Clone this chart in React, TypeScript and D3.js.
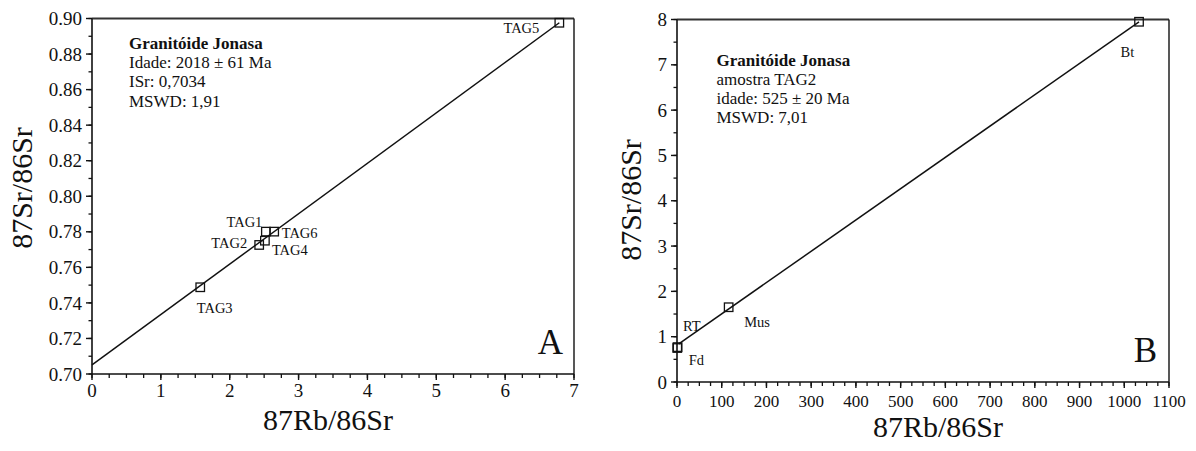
import React from "react";
import * as d3 from "d3";

// ---------- Data ----------
// Panel A
const tagLabels = ["TAG1", "TAG2", "TAG3", "TAG4", "TAG5", "TAG6"];
const tagRb = [2.525, 2.428, 1.572, 2.511, 6.787, 2.646];
const tagSr = [0.7801, 0.7726, 0.7488, 0.775, 0.8976, 0.7801];
const isoA_x = [0, 6.787];
const isoA_y = [0.7051, 0.8976];
const infoA = ["Granitóide Jonasa", "Idade: 2018 ± 61 Ma", "ISr: 0,7034", "MSWD: 1,91"];
const xTicksA = [0, 1, 2, 3, 4, 5, 6, 7];
const yTicksA = [0.7, 0.72, 0.74, 0.76, 0.78, 0.8, 0.82, 0.84, 0.86, 0.88, 0.9];

// Panel B
const minLabels = ["RT", "Fd", "Mus", "Bt"];
const minRb = [1.2, 0.6, 115.5, 1033];
const minSr = [0.77, 0.75, 1.65, 7.95];
const isoB_x = [4, 1033];
const isoB_y = [0.84, 7.95];
const infoB = ["Granitóide Jonasa", "amostra TAG2", "idade: 525 ± 20 Ma", "MSWD: 7,01"];
const xTicksB = [0, 100, 200, 300, 400, 500, 600, 700, 800, 900, 1000, 1100];
const yTicksB = [0, 1, 2, 3, 4, 5, 6, 7, 8];

// ---------- Layout (styles / positions) ----------
const FONT = "'Liberation Serif', 'Times New Roman', serif";
const labelOffA: Record<string, [number, number, string]> = {
  TAG1: [-3.5, -5, "end"],
  TAG2: [-12, 3, "end"],
  TAG3: [-3.5, 26, "start"],
  TAG4: [7, 14.5, "start"],
  TAG5: [-20, 10.5, "end"],
  TAG6: [7.5, 6.5, "start"],
};
const labelOffB: Record<string, [number, number, string]> = {
  RT: [5.5, -16, "start"],
  Fd: [11.5, 16.5, "start"],
  Mus: [15.5, 19.5, "start"],
  Bt: [-18.5, 35.5, "start"],
};

type PanelProps = {
  left: number; right: number; top: number; bottom: number;
  xDomain: [number, number]; yDomain: [number, number];
  xTicks: number[]; yTicks: number[];
  xMinorStep: number; yMinorStep: number;
  yFmt: (v: number) => string;
  xLabelFont: number;
  xLabelOffset: number;
  labels: string[]; xs: number[]; ys: number[];
  isoX: number[]; isoY: number[];
  offs: Record<string, [number, number, string]>;
  info: string[]; infoX: number; infoY: number;
  letter: string; letterX: number; letterY: number;
  xTitleX: number; xTitleY: number;
  yTitleX: number; yTitleY: number;
};

function Panel(p: PanelProps) {
  const x = d3.scaleLinear().domain(p.xDomain).range([p.left, p.right]);
  const y = d3.scaleLinear().domain(p.yDomain).range([p.bottom, p.top]);
  const xMinor = d3.range(p.xDomain[0], p.xDomain[1] + 1e-9, p.xMinorStep);
  const yMinor = d3.range(p.yDomain[0], p.yDomain[1] + 1e-9, p.yMinorStep);
  const line = d3.line<number>().x((_, i) => x(p.isoX[i])).y((_, i) => y(p.isoY[i]));
  const sq = 8.5;
  return (
    <g fontFamily={FONT} fill="#111">
      {/* frame */}
      <line x1={p.left} x2={p.right} y1={p.top} y2={p.top} stroke="#333" strokeWidth={2} />
      <line x1={p.right} x2={p.right} y1={p.top} y2={p.bottom} stroke="#111" strokeWidth={1.4} />
      <line x1={p.left} x2={p.left} y1={p.top} y2={p.bottom} stroke="#111" strokeWidth={1.6} />
      <line x1={p.left} x2={p.right} y1={p.bottom} y2={p.bottom} stroke="#111" strokeWidth={1.6} />
      {/* minor ticks */}
      {xMinor.map((v, i) => (
        <line key={"xm" + i} x1={x(v)} x2={x(v)} y1={p.bottom} y2={p.bottom + 4} stroke="#111" strokeWidth={1.3} />
      ))}
      {yMinor.map((v, i) => (
        <line key={"ym" + i} x1={p.left - 3.5} x2={p.left} y1={y(v)} y2={y(v)} stroke="#111" strokeWidth={1.3} />
      ))}
      {/* major ticks */}
      {p.xTicks.map((v) => (
        <g key={"xt" + v}>
          <line x1={x(v)} x2={x(v)} y1={p.bottom} y2={p.bottom + 6} stroke="#111" strokeWidth={1.4} />
          <text x={x(v)} y={p.bottom + p.xLabelOffset} textAnchor="middle" fontSize={p.xLabelFont}>{String(v)}</text>
        </g>
      ))}
      {p.yTicks.map((v) => (
        <g key={"yt" + v}>
          <line x1={p.left - 6} x2={p.left} y1={y(v)} y2={y(v)} stroke="#111" strokeWidth={1.4} />
          <text x={p.left - 10} y={y(v)} dy="0.35em" textAnchor="end" fontSize={19}>{p.yFmt(v)}</text>
        </g>
      ))}
      {/* isochron */}
      <path d={line(p.isoX) || ""} fill="none" stroke="#111" strokeWidth={1.5} />
      {/* points */}
      {p.labels.map((l, i) => (
        <rect key={"pt" + l} x={x(p.xs[i]) - sq / 2} y={y(p.ys[i]) - sq / 2} width={sq} height={sq}
          fill="none" stroke="#111" strokeWidth={1.3} />
      ))}
      {p.labels.map((l, i) => {
        const o = p.offs[l];
        return (
          <text key={"lb" + l} x={x(p.xs[i]) + o[0]} y={y(p.ys[i]) + o[1]} textAnchor={o[2] as any} fontSize={14.5}>{l}</text>
        );
      })}
      {/* info box */}
      {p.info.map((t, i) => (
        <text key={"in" + i} x={p.infoX} y={p.infoY + i * 19.2} fontSize={17} fontWeight={i === 0 ? "bold" : "normal"}>{t}</text>
      ))}
      {/* panel letter */}
      <text x={p.letterX} y={p.letterY} textAnchor="end" fontSize={35}>{p.letter}</text>
      {/* axis titles */}
      <text x={p.xTitleX} y={p.xTitleY} textAnchor="middle" fontSize={30}>87Rb/86Sr</text>
      <text transform={`translate(${p.yTitleX},${p.yTitleY}) rotate(-90)`} textAnchor="middle" fontSize={30}>87Sr/86Sr</text>
    </g>
  );
}

export default function App() {
  return (
    <svg width={1196} height={451} style={{ position: "absolute", left: 0, top: 0, background: "#fff" }}>
      <rect width={1196} height={451} fill="#fff" />
      <Panel
        left={92} right={574} top={18.5} bottom={374}
        xDomain={[0, 7]} yDomain={[0.7, 0.9]}
        xTicks={xTicksA} yTicks={yTicksA}
        xMinorStep={0.25} yMinorStep={0.01}
        yFmt={(v) => v.toFixed(2)}
        xLabelFont={19} xLabelOffset={23}
        labels={tagLabels} xs={tagRb} ys={tagSr}
        isoX={isoA_x} isoY={isoA_y}
        offs={labelOffA}
        info={infoA} infoX={129} infoY={49}
        letter="A" letterX={563} letterY={354}
        xTitleX={328} xTitleY={430}
        yTitleX={31.5} yTitleY={188}
      />
      <Panel
        left={677} right={1169} top={19.5} bottom={382}
        xDomain={[0, 1100]} yDomain={[0, 8]}
        xTicks={xTicksB} yTicks={yTicksB}
        xMinorStep={25} yMinorStep={0.5}
        yFmt={(v) => String(v)}
        xLabelFont={17} xLabelOffset={24.5}
        labels={minLabels} xs={minRb} ys={minSr}
        isoX={isoB_x} isoY={isoB_y}
        offs={labelOffB}
        info={infoB} infoX={716.5} infoY={65.5}
        letter="B" letterX={1157} letterY={361.5}
        xTitleX={938} xTitleY={437}
        yTitleX={641} yTitleY={200}
      />
    </svg>
  );
}
